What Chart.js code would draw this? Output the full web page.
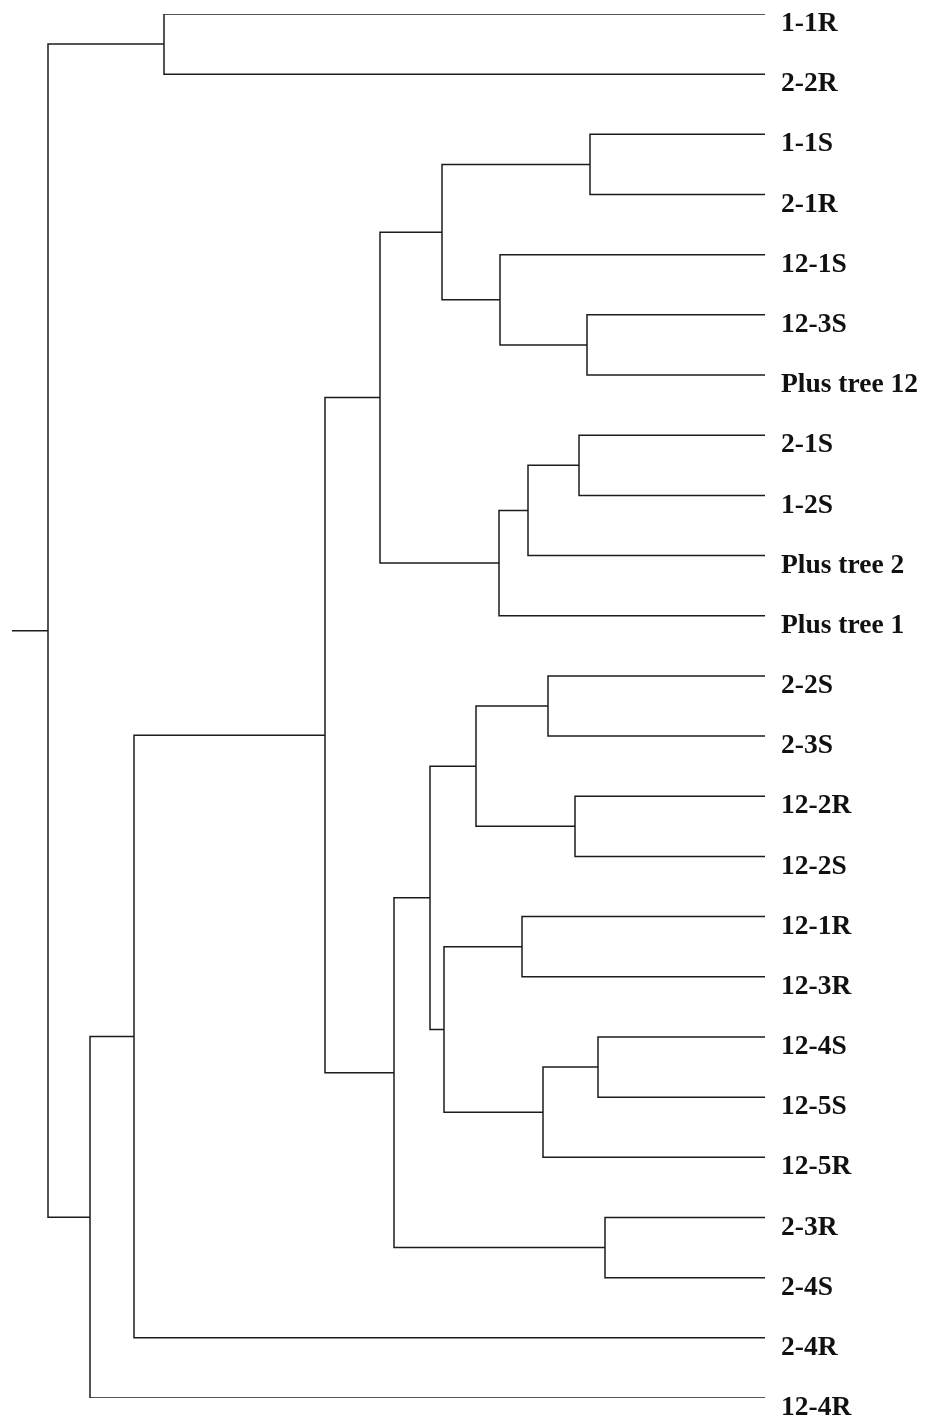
<!DOCTYPE html>
<html>
<head>
<meta charset="utf-8">
<script src="https://cdn.jsdelivr.net/npm/chart.js@4"></script>
<style>
  html, body { margin: 0; padding: 0; background: #fff; }
  #wrap { width: 927px; height: 1418px; position: relative; }
</style>
</head>
<body>
<div id="wrap"><canvas id="tree"></canvas></div>
<script>
// leaf order, top to bottom
const leaves = ['1-1R', '2-2R', '1-1S', '2-1R', '12-1S', '12-3S', 'Plus tree 12',
  '2-1S', '1-2S', 'Plus tree 2', 'Plus tree 1', '2-2S', '2-3S', '12-2R', '12-2S',
  '12-1R', '12-3R', '12-4S', '12-5S', '12-5R', '2-3R', '2-4S', '2-4R', '12-4R'];

// merges: node id = leaves.length + index (linkage style)
const leftChild  = [0, 2, 5, 4, 25, 7, 29, 30, 28, 11, 13, 33, 15, 17, 37, 36, 35, 20, 40, 32, 43, 44, 24];
const rightChild = [1, 3, 6, 26, 27, 8, 9, 10, 31, 12, 14, 34, 16, 18, 19, 38, 39, 21, 41, 42, 22, 23, 45];
const height     = [60.1, 17.5, 17.8, 26.5, 32.3, 18.6, 23.7, 26.6, 38.5, 21.7, 19.0, 28.9,
  24.3, 16.7, 22.2, 32.1, 33.5, 16.0, 37.1, 44.0, 63.1, 67.5, 71.7];

const rootStub = 75.3;

// node positions: leaves at height 0, internal nodes centred on their children
const nodeY = leaves.map((_, i) => i);
const nodeH = leaves.map(() => 0);
height.forEach((h, k) => {
  nodeY.push((nodeY[leftChild[k]] + nodeY[rightChild[k]]) / 2);
  nodeH.push(h);
});

const lineStyle = {
  borderColor: '#1c1c1c',
  borderWidth: 1.5,
  pointRadius: 0,
  showLine: true,
  tension: 0,
  fill: false
};

const datasets = height.map((h, k) => {
  const a = leftChild[k], b = rightChild[k];
  return Object.assign({
    data: [
      { x: nodeH[a], y: nodeY[a] },
      { x: h, y: nodeY[a] },
      { x: h, y: nodeY[b] },
      { x: nodeH[b], y: nodeY[b] }
    ]
  }, lineStyle);
});
const root = nodeY.length - 1;
datasets.push(Object.assign({
  data: [{ x: nodeH[root], y: nodeY[root] }, { x: rootStub, y: nodeY[root] }]
}, lineStyle));

const leafLabels = {
  id: 'leafLabels',
  afterDatasetsDraw(chart) {
    const ctx = chart.ctx;
    const xs = chart.scales.x, ys = chart.scales.y;
    ctx.save();
    ctx.fillStyle = '#111';
    ctx.font = 'bold 27.5px "Liberation Serif", "DejaVu Serif", serif';
    ctx.textAlign = 'left';
    ctx.textBaseline = 'middle';
    leaves.forEach((name, i) => {
      ctx.fillText(name, xs.getPixelForValue(0) + 16, ys.getPixelForValue(i) + 10);
    });
    ctx.restore();
  }
};

new Chart(document.getElementById('tree'), {
  type: 'scatter',
  data: { datasets: datasets },
  options: {
    responsive: true,
    maintainAspectRatio: false,
    animation: false,
    layout: { padding: { left: 12, right: 162, top: 14, bottom: 20 } },
    plugins: {
      legend: { display: false },
      tooltip: { enabled: false }
    },
    scales: {
      x: { type: 'linear', reverse: true, min: 0, max: rootStub, display: false },
      y: { type: 'linear', reverse: true, min: 0, max: leaves.length - 1, display: false }
    }
  },
  plugins: [leafLabels]
});
</script>
</body>
</html>
